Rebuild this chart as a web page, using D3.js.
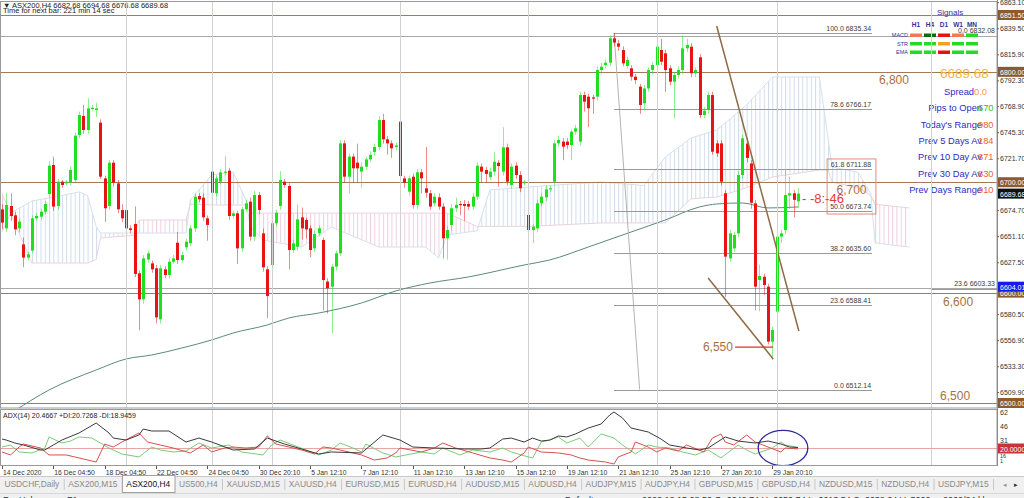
<!DOCTYPE html>
<html><head><meta charset="utf-8">
<script src="https://cdnjs.cloudflare.com/ajax/libs/d3/7.8.5/d3.min.js"></script>
<style>
html,body{margin:0;padding:0;background:#fff;overflow:hidden}
svg{display:block;font-family:"Liberation Sans",Arial,sans-serif}
</style></head><body>
<svg id="c" width="1024" height="498"></svg>
<script>
// ---------------- DATA ----------------
const headerText = "ASX200,H4  6682.68 6694.68 6676.68 6689.68";
const timerText = "Time for next bar: 221 min 14 sec";
const barOpen = [6675.4,6658.2,6678.5,6670,6658.2,6643.7,6631.7,6638,6667.3,6668.8,
6673.3,6689.3,6715.6,6678.5,6700.5,6699,6699.6,6702,6742.8,6760,
6747.3,6766.3,6765.4,6754,6703.5,6678.5,6717.7,6699,6674.8,6674.8,
6658.2,6662.2,6617.5,6593.9,6630,6626.5,6622,6575.8,6621.1,6616,
6628,6645.2,6629.5,6641,6644.7,6658.2,6687.5,6686,6667.3,6709.6,
6690,6700.5,6709,6710.5,6669.4,6671.8,6640.1,6675.5,6682.4,6650.7,
6688.4,6653.7,6621.1,6625,6662.8,6678.5,6700.5,6696.6,6638.6,6641.6,
6668.2,6665.8,6658.2,6640.1,6653.7,6647.7,6610,6605.4,6623.5,6635.6,
6735.2,6705,6723.2,6717.7,6709.6,6714.1,6720.7,6727.4,6732,6756.4,
6738.9,6735.2,6732,6754.9,6703.5,6691.5,6705,6679.4,6709,6694.5,
6690,6680.9,6686.3,6677.9,6649.2,6661.3,6676.4,6680.3,6680.3,6680.3,
6677.9,6686.9,6714.1,6711.1,6704.6,6709.6,6717.7,6709.6,6731.6,6697.5,
6715,6706.5,6699,6670.3,6656.7,6658.2,6680.9,6686.3,6693.6,6700.5,
6735.2,6736.8,6736.8,6733.7,6745.8,6736.8,6779,6777.5,6776.9,6777.5,
6801.7,6806.2,6808.3,6830.4,6825.8,6819.8,6805.3,6803.2,6795.6,6786.6,
6771.5,6785,6801.7,6806.2,6819.8,6816.8,6803.2,6791.1,6797.2,6801.7,
6821.3,6822.8,6798.7,6813.2,6760.9,6765.4,6779,6735.2,6735.2,6690,
6631.1,6640.1,6653.7,6706.5,6735,6717,6680.9,6611.4,6614.4,6605.4,
6555.6,6582.7,6650.7,6656.7,6688,6690,6682.68];
const barHigh = [6680,6690,6690,6673,6667,6650,6637,6670,6672,6676,
6683,6719,6723,6703,6702,6702,6714,6745,6764,6770,
6776,6770,6772,6757,6706,6720,6720,6702,6680,6678,
6661,6678,6620,6634,6638,6629,6625,6625,6624,6631,
6634,6655,6637,6649,6661,6690,6690,6690,6670,6719,
6706,6712,6724,6713,6674,6674,6678,6684,6686,6692,
6691,6658,6624,6666,6675,6710,6703,6699,6648,6680,
6677,6668,6661,6656,6661,6650,6613,6626,6638,6738,
6738,6726,6726,6735,6718,6723,6728,6735,6760,6762,
6742,6738,6736,6758,6706,6706,6708,6712,6712,6732,
6693,6690,6690,6681,6660,6680,6686,6683,6684,6683,
6690,6718,6717,6714,6713,6727,6720,6750,6735,6717,
6718,6710,6702,6674,6662,6684,6690,6697,6697,6738,
6742,6740,6740,6748,6752,6782,6782,6780,6779,6805,
6808,6811,6833,6835.34,6829,6823,6814,6806,6798,6789,
6788,6804,6809,6832,6830,6820,6806,6800,6805,6833,
6830,6826,6804,6816,6768,6782,6782,6738,6738,6693,
6657,6655,6710,6743,6740,6720,6684,6625,6617,6608,
6569,6654,6657,6711,6705,6693,6694.68];
const barLow = [6658,6655,6665,6652,6655,6623,6629,6636,6665,6666,
6671,6686,6674,6675,6695,6697,6697,6699,6740,6744,
6744,6765,6759,6703,6664,6675,6696,6672,6664,6655,
6654,6614,6566,6590,6627,6618,6572,6572,6613,6613,
6626,6626,6627,6638,6642,6655,6682,6665,6647,6688,
6687,6698,6706,6666,6667,6626,6637,6673,6647,6647,
6671,6619,6577,6621,6660,6675,6695,6621,6636,6638,
6648,6649,6632,6637,6651,6584,6581,6563,6620,6633,
6700,6690,6700,6700,6695,6711,6718,6724,6729,6735,
6725,6722,6729,6702,6695,6688,6676,6676,6690,6686,
6675,6678,6675,6631,6630,6656,6673,6670,6665,6675,
6675,6684,6700,6700,6702,6706,6696,6706,6697,6694,
6703,6691,6697,6645,6645,6655,6678,6683,6691,6697,
6732,6720,6730,6720,6743,6733,6764,6750,6762,6774,
6798,6803,6805,6823,6819,6805,6803,6792,6789,6762,
6765,6782,6798,6803,6806,6782,6788,6758,6794,6798,
6818,6795,6795,6758,6758,6762,6725,6723,6697,6596,
6628,6637,6650,6703,6718,6676,6584,6583,6598,6553,
6539,6512.14,6645,6653,6676,6668,6676.68];
const barClose = [6663.4,6679.4,6669.4,6657.3,6664.3,6631.7,6634.7,6667.3,6669.4,6673.3,
6680.3,6715,6677.9,6700.5,6697.5,6700.5,6711.1,6742.2,6760.9,6747.3,
6766.9,6767.5,6766.9,6705,6676.4,6717.7,6699.6,6675.5,6667.3,6658.2,
6656.7,6616.9,6593.9,6631,6635.6,6621.1,6577.6,6622,6616,6628,
6631,6629.5,6634,6646.2,6658.2,6686.9,6684.5,6668.2,6661.3,6690.5,
6703.5,6709,6709.6,6669.4,6671.8,6640.1,6675.5,6680.9,6650.7,6688.4,
6674.8,6622.9,6596.9,6662.8,6672.4,6702,6697.5,6638.6,6644.6,6666.4,
6658.2,6657.3,6638.6,6653.1,6658.2,6611.4,6603.9,6623.5,6635.6,6735.2,
6705,6723.2,6712.6,6712.6,6714.1,6720.7,6724.7,6732,6756.4,6738.9,
6735.2,6730.7,6733.4,6705.6,6699.6,6703.5,6679.4,6709,6703.5,6690.5,
6677.9,6686.9,6677.9,6649.2,6656.7,6676.4,6679.4,6679.4,6678.5,6677.9,
6686.9,6715,6709.6,6707.5,6709.6,6718.6,6714.7,6731.6,6700.5,6714.1,
6706.5,6694.5,6700.5,6656.7,6659.7,6680.9,6686.9,6693.6,6694.5,6735.2,
6738.3,6732.2,6733.7,6745.8,6748.8,6779,6773,6767,6775.7,6801.7,
6804.7,6808.3,6830.4,6826.5,6822.8,6807.7,6810.8,6795.6,6792.6,6770,
6785,6801.7,6806.2,6822.8,6809.2,6801.7,6791.1,6797.2,6801.7,6821.3,
6824.3,6798.7,6801.7,6760.9,6764.8,6779,6727.7,6726.2,6700.5,6632.6,
6653.7,6652.2,6706.5,6739.8,6722,6681.4,6605.4,6615,6606.9,6555.6,
6566.1,6650.7,6653.7,6688.4,6690,6684,6689.68];

// moving average readings [bar, price]
const maPoints = [[3,6493],[11,6511.8],[22,6529.9],[29,6539.9],[35,6543.5],[42,6549.8],[49,6557.1],[54,6563.4],[62,6570.7],[67,6577],[74,6581.5],[84,6590.6],[92,6601.5],[100,6608.7],[109,6614.2],[122,6625],[128,6629.6],[137,6641.3],[147,6654.9],[155,6665.8],[163,6677.6],[167,6680.3],[173,6681.2],[179,6676.7],[186,6677.6]];

// Ichimoku cloud readings
const cloudBars = [0,2,7,14,18,20,22,23,31,32,43,44,49,54,57,58,61,70,77,88,99,102,104,111,114,123,140,150,155,161,167,174,180,191,193,194,200,203,204,212];
const spanA = [6655,6672,6683,6688,6691.2,6688,6660,6654,6654,6654,6654,6683.9,6706.6,6709.3,6683.9,6660,6647.7,6641.3,6659.4,6641.3,6641.3,6631.4,6652.2,6656,6693,6695.7,6700.2,6697,6722.9,6740,6747.3,6770,6795.3,6795.3,6740,6713.8,6709,6690,6645,6641.3];
const spanB = [6690,6672,6626.8,6626.8,6626.8,6626.8,6630,6649.5,6652,6665.8,6665.8,6680,6679.4,6679.4,6679.4,6672,6672,6672,6672,6672,6672,6672,6672,6660,6660,6660,6663.1,6663.1,6663.1,6685,6686.6,6695,6704.7,6711.1,6711,6700,6695,6688,6680,6676.7];

// Fibonacci retracement
const fibLevels = ["100.0","78.6","61.8","50.0","38.2","23.6","0.0"];
const fibPrices = [6835.34,6766.17,6711.88,6673.74,6635.60,6588.41,6512.14];

// horizontal levels
const brownLevels = [6851.50,6800.00,6700.00,6600.00,6500.00];
const grayLevels = [6832.08,6604.01];
const levelTexts = ["6,800","6,700","6,600","6,500","6,550"];
const currentPrice = 6689.68;
const bluePrice = 6604.01;
const priceTicks = [6863.10,6839.50,6815.90,6792.30,6768.90,6745.30,6721.70,6674.70,6651.10,6627.50,6580.50,6556.90,6533.30,6509.90];

// ADX(14)
const adxLine = [[0,29.9],[1,28.8],[3,25.5],[5,23.3],[9,17.8],[10,17.8],[14,28.8],[18,36.6],[22,47.6],[25,36.6],[26,31.0],[29,28.8],[32,34.4],[33,41.0],[35,38.8],[39,38.8],[43,26.6],[46,31.0],[49,26.6],[54,17.8],[59,18.9],[62,31.0],[66,24.4],[74,13.4],[77,15.6],[84,14.5],[89,34.4],[93,28.8],[96,21.1],[101,20],[108,18.9],[112,18.9],[114,20],[117,29.9],[119,31.0],[122,26.6],[124,31.0],[126,27.7],[128,28.8],[130,33.3],[132,32.2],[134,35.5],[137,42.1],[140,46.5],[142,56.5],[143,59.8],[145,53.1],[147,42.1],[151,37.7],[154,29.9],[156,23.3],[160,20],[163,17.8],[165,20],[169,32.2],[172,27.7],[176,25.5],[179,27.7],[182,24.4],[184,21.1],[186,20.4667]];
const plusDI = [[0,21.1],[2,23.3],[4,15.6],[7,14.5],[10,20],[11,32.2],[14,25.5],[16,27.7],[18,32.2],[21,31.0],[25,20],[28,13.4],[32,10.1],[35,21.1],[37,17.8],[40,15.6],[43,16.7],[46,25.5],[49,20],[53,23.3],[56,15.6],[61,12.3],[63,23.3],[65,28.8],[68,23.3],[74,12.3],[77,17.8],[79,25.5],[82,20],[84,15.6],[85,24.4],[89,14.5],[92,10.1],[98,15.6],[101,13.4],[103,20],[107,12.3],[110,17.8],[114,15.6],[117,20],[119,15.6],[123,10.1],[124,9.0],[126,26.6],[128,28.8],[130,32.2],[132,25.5],[135,31.0],[137,21.1],[140,35.5],[143,31.0],[145,23.3],[148,13.4],[151,23.3],[153,21.1],[156,20],[159,15.6],[162,12.3],[165,17.8],[168,9.0],[172,23.3],[174,17.8],[176,13.4],[180,20],[182,26.6],[183,23.3],[186,20.7268]];
const minusDI = [[0,15.6],[2,12.3],[4,21.1],[5,24.4],[9,20],[11,12.3],[15,12.3],[18,9.0],[22,4.5],[24,24.4],[26,21.1],[28,26.6],[32,36.6],[34,26.6],[37,23.3],[40,20],[44,14.5],[47,23.3],[49,15.6],[52,20],[54,21.1],[57,20],[60,21.1],[62,33.3],[64,24.4],[67,21.1],[70,17.8],[73,13.4],[75,21.1],[77,20],[81,15.6],[84,12.3],[87,6.7],[90,9.0],[92,14.5],[93,20],[98,15.6],[101,20],[103,25.5],[106,20],[110,14.5],[114,9.0],[117,6.7],[119,4.5],[122,14.5],[123,21.1],[126,15.6],[130,14.5],[133,12.3],[135,9.0],[137,6.7],[141,4.5],[143,2.3],[144,10.1],[147,15.6],[148,26.6],[151,21.1],[153,15.6],[155,20],[158,16.7],[160,23.3],[164,15.6],[166,31.0],[168,35.5],[169,26.6],[171,23.3],[174,34.4],[176,26.6],[179,21.1],[182,15.6],[183,20],[186,18.9459]];
const adxTicks = [62,46,31,16,1];
const adxLevel = 20;
const adxHeader = "ADX(14) 20.4667 +DI:20.7268 -DI:18.9459";

// time axis
const timeLabels = ["14 Dec 2020","16 Dec 04:50","18 Dec 04:50","22 Dec 04:50","24 Dec 04:50","30 Dec 20:10","5 Jan 12:10","7 Jan 12:10","11 Jan 12:10","13 Jan 12:10","15 Jan 12:10","19 Jan 12:10","21 Jan 12:10","25 Jan 12:10","27 Jan 20:10","29 Jan 20:10"];
const timeLabelBars = [0,12,24,36,48,60,72,84,96,108,120,132,144,156,168,180];
const gridBars = [29,49,63,93,123,153,181,217];

// signals panel
const signalTimeframes = ["H1","H4","D1","W1","MN"];
const signalRows = ["MACD","STR","EMA"];
const signalStates = [["weakSell","buy2","sell","weakSell","buy"],["buy","buy","neutral","buy","buy"],["buy","buy","sell","buy","buy"]];
const infoLabels = ["Spread","Pips to Open","Today's Range","Prev 5 Days Av","Prev 10 Day Av","Prev 30 Day Av","Prev Days Range"];
const infoValues = ["0.0","670","980","184","871","830","910"];
const countdownText = "- -8:-46";

// tabs / status
const tabs = ["USDCHF,Daily","ASX200,M15","ASX200,H4","US500,H4","XAUUSD,M15","XAUUSD,H4","EURUSD,M15","EURUSD,H4","AUDUSD,M15","AUDUSD,H4","AUDJPY,M15","AUDJPY,H4","GBPUSD,M15","GBPUSD,H4","NZDUSD,M15","NZDUSD,H4","USDJPY,M15"];
const activeTab = "ASX200,H4";

// ---------------- DRAW ----------------
const svg = d3.select('#c');
const mainTop = 2, mainBot = 408, adxTop = 410, adxBot = 466, axisX = 997;
const x = d3.scaleLinear().domain([0, 186]).range([2, 798]);
const y = d3.scaleLinear().domain([6500, 6851.5]).range([403, 15]);
const ya = d3.scaleLinear().domain([20, 62]).range([448, 410]);
const step = x(1) - x(0);

const UP = '#1ee01e', DN = '#e81414', BROWN = '#a27a5a', LBROWN = '#a8703f';

svg.append('rect').attr('width', 1024).attr('height', 498).attr('fill', '#fff');
const defs = svg.append('defs');
defs.append('clipPath').attr('id', 'mainClip').append('rect')
  .attr('x', 0).attr('y', mainTop).attr('width', axisX).attr('height', mainBot - mainTop);
defs.append('clipPath').attr('id', 'adxClip').append('rect')
  .attr('x', 0).attr('y', adxTop).attr('width', axisX).attr('height', adxBot - adxTop);

const main = svg.append('g').attr('clip-path', 'url(#mainClip)');

// vertical grid
[[mainTop, mainBot], [adxTop, adxBot]].forEach(([a, b]) => {
  svg.append('g').selectAll('line').data(gridBars).join('line')
    .attr('x1', d => Math.round(x(d)) + 0.5).attr('x2', d => Math.round(x(d)) + 0.5)
    .attr('y1', a).attr('y2', b).attr('stroke', '#d2d2d2').attr('stroke-width', 1);
});

// Ichimoku cloud (difference technique)
const cloud = cloudBars.map((b, i) => ({ b, a: spanA[i], s: spanB[i] }));
function hatch(id, color) {
  const p = defs.append('pattern').attr('id', id).attr('patternUnits', 'userSpaceOnUse')
    .attr('width', step).attr('height', 8).attr('x', x(0));
  p.append('rect').attr('width', step).attr('height', 8).attr('fill', 'none');
  p.append('line').attr('x1', 0.5).attr('x2', 0.5).attr('y1', 0).attr('y2', 8)
    .attr('stroke', color).attr('stroke-width', 1);
}
hatch('hBlue', '#d0dcec');
hatch('hPink', '#ecd0de');
defs.append('clipPath').attr('id', 'belowA').append('path')
  .attr('d', d3.area().x(d => x(d.b)).y0(mainBot + 20).y1(d => y(d.a))(cloud));
defs.append('clipPath').attr('id', 'aboveA').append('path')
  .attr('d', d3.area().x(d => x(d.b)).y0(mainTop - 20).y1(d => y(d.a))(cloud));
const cg = main.append('g');
cg.append('path').attr('clip-path', 'url(#belowA)')
  .attr('d', d3.area().x(d => x(d.b)).y0(mainTop - 20).y1(d => y(d.s))(cloud))
  .attr('fill', 'url(#hBlue)');
cg.append('path').attr('clip-path', 'url(#aboveA)')
  .attr('d', d3.area().x(d => x(d.b)).y0(mainBot + 20).y1(d => y(d.s))(cloud))
  .attr('fill', 'url(#hPink)');
cg.append('path').attr('d', d3.line().x(d => x(d.b)).y(d => y(d.a))(cloud))
  .attr('fill', 'none').attr('stroke', '#d6e0ec').attr('stroke-width', 1);
cg.append('path').attr('d', d3.line().x(d => x(d.b)).y(d => y(d.s))(cloud))
  .attr('fill', 'none').attr('stroke', '#e8d4de').attr('stroke-width', 1);

// horizontal levels
main.append('g').selectAll('line').data(grayLevels).join('line')
  .attr('x1', 0).attr('x2', axisX)
  .attr('y1', d => Math.round(y(d)) + 0.5).attr('y2', d => Math.round(y(d)) + 0.5)
  .attr('stroke', '#a8a8a8').attr('stroke-width', 1);
main.append('g').selectAll('line').data(brownLevels).join('line')
  .attr('x1', 0).attr('x2', axisX)
  .attr('y1', d => Math.round(y(d)) + 0.5).attr('y2', d => Math.round(y(d)) + 0.5)
  .attr('stroke', BROWN).attr('stroke-width', 1);

// moving average
main.append('path').attr('d', d3.line().x(d => x(d[0])).y(d => y(d[1])).curve(d3.curveMonotoneX)(maPoints))
  .attr('fill', 'none').attr('stroke', '#5b8a7c').attr('stroke-width', 1);

// fibonacci
const fibStart = 143, fibEnd = 203.3;
main.append('line').attr('x1', x(fibStart)).attr('y1', y(fibPrices[0]))
  .attr('x2', x(149)).attr('y2', y(fibPrices[fibPrices.length - 1]))
  .attr('stroke', '#b4b4b4').attr('stroke-width', 1);
const fg = main.append('g');
fg.selectAll('line').data(fibPrices).join('line')
  .attr('x1', x(fibStart)).attr('x2', x(fibEnd))
  .attr('y1', d => Math.round(y(d)) + 0.5).attr('y2', d => Math.round(y(d)) + 0.5)
  .attr('stroke', '#9a9a9a').attr('stroke-width', 1);
fg.selectAll('text').data(fibPrices).join('text')
  .attr('x', x(fibEnd) - 1).attr('y', d => y(d) - 2)
  .attr('text-anchor', 'end').attr('font-size', 7).attr('fill', '#404040')
  .text((d, i) => fibLevels[i] + '  ' + d.toFixed(2));
// other fib fragments near axis
main.append('line').attr('x1', x(217)).attr('x2', axisX)
  .attr('y1', Math.round(y(6603.33)) + 0.5).attr('y2', Math.round(y(6603.33)) + 0.5)
  .attr('stroke', '#9a9a9a');
main.append('text').attr('x', 995).attr('y', y(6603.33) - 3).attr('text-anchor', 'end')
  .attr('font-size', 7).attr('fill', '#404040').text('23.6  6603.33');
main.append('text').attr('x', 995).attr('y', y(6832.08) - 3).attr('text-anchor', 'end')
  .attr('font-size', 7).attr('fill', '#404040').text('0.0  6832.08');

// candles
const candles = barOpen.map((o, i) => ({ i, o, h: Math.max(barHigh[i], o, barClose[i]), l: Math.min(barLow[i], o, barClose[i]), c: barClose[i] }));
const cgp = main.append('g');
cgp.selectAll('line').data(candles).join('line')
  .attr('x1', d => Math.round(x(d.i)) + 0.5).attr('x2', d => Math.round(x(d.i)) + 0.5)
  .attr('y1', d => y(d.h)).attr('y2', d => y(d.l))
  .attr('stroke', d => d.c >= d.o ? UP : DN).attr('stroke-width', 1).attr('opacity', 0.5);
cgp.selectAll('rect').data(candles).join('rect')
  .attr('x', d => Math.round(x(d.i)) - 1).attr('width', 3)
  .attr('y', d => y(Math.max(d.o, d.c)))
  .attr('height', d => Math.max(1.2, y(Math.min(d.o, d.c)) - y(Math.max(d.o, d.c))))
  .attr('fill', d => d.c >= d.o ? UP : DN);

// trend lines
const trendLines = [[[167, 6841.5], [186.2, 6565.2]], [[165, 6613.2], [180.2, 6539.9]]];
main.append('g').selectAll('line').data(trendLines).join('line')
  .attr('x1', d => x(d[0][0])).attr('y1', d => y(d[0][1]))
  .attr('x2', d => x(d[1][0])).attr('y2', d => y(d[1][1]))
  .attr('stroke', '#8f6a45').attr('stroke-width', 1.5);

// 6,550 marker
main.append('line').attr('x1', x(171.3)).attr('x2', x(180.2))
  .attr('y1', y(6550.7)).attr('y2', y(6550.7)).attr('stroke', '#e03030').attr('stroke-width', 1.3);

// rectangle
main.append('rect').attr('x', x(192.8)).attr('y', y(6721.1))
  .attr('width', x(204.2) - x(192.8)).attr('height', y(6671.2) - y(6721.1))
  .attr('fill', 'none').attr('stroke', '#e28a78').attr('stroke-width', 1);

// level texts
const lt = main.append('g').attr('font-size', 12).attr('fill', LBROWN);
lt.append('text').attr('x', x(204.9)).attr('y', y(6800) + 3).attr('dominant-baseline', 'hanging').text(levelTexts[0]);
lt.append('text').attr('x', x(195)).attr('y', y(6700) + 3).attr('dominant-baseline', 'hanging').text(levelTexts[1]);
lt.append('text').attr('x', x(219.9)).attr('y', y(6600) + 5).attr('dominant-baseline', 'hanging').text(levelTexts[2]);
lt.append('text').attr('x', x(219.2)).attr('y', y(6500) - 3).text(levelTexts[3]);
lt.append('text').attr('x', x(170.8)).attr('y', y(6550.7) + 4).attr('text-anchor', 'end').text(levelTexts[4]);

// countdown
main.append('text').attr('x', x(186) + 4).attr('y', y(currentPrice) + 9)
  .attr('font-size', 13).attr('fill', '#e03a3a').text(countdownText);

// header
main.append('text').attr('x', 3).attr('y', 8).attr('font-size', 7.5).attr('fill', '#222')
  .text('\u25BC ' + headerText);
main.append('text').attr('x', 3).attr('y', 13).attr('font-size', 7.5).attr('fill', '#222')
  .text(timerText);

// signals panel
const sp = main.append('g');
sp.append('text').attr('x', 937).attr('y', 15).attr('font-size', 8).attr('fill', '#333399').text('Signals');
const colX = [910, 924, 938, 952, 966];
sp.selectAll('.tf').data(signalTimeframes).join('text')
  .attr('x', (d, i) => colX[i] + 6).attr('y', 27).attr('text-anchor', 'middle')
  .attr('font-size', 6.5).attr('font-weight', 'bold').attr('fill', '#333399').text(d => d);
const stateColor = { weakSell: '#f2785a', buy2: '#0b6b12', sell: '#e01414', buy: '#24dc24', neutral: '#f0a31c' };
signalRows.forEach((r, ri) => {
  const yy = 35 + ri * 8.5;
  sp.append('text').attr('x', 908).attr('y', yy + 2).attr('text-anchor', 'end')
    .attr('font-size', 5.5).attr('fill', '#333399').text(r);
  sp.selectAll('.s' + ri).data(signalStates[ri]).join('rect')
    .attr('x', (d, i) => colX[i]).attr('y', yy - 1.5).attr('width', 12).attr('height', 3.5)
    .attr('fill', d => stateColor[d]);
});
sp.append('text').attr('x', 940).attr('y', y(6800) + 6).attr('font-size', 13.5).attr('fill', '#f3b33d')
  .text(currentPrice.toFixed(2));
const infoValueColor = ['#f0a040', '#2ec02e', '#f06030', '#f06030', '#f06030', '#f06030', '#f06030'];
infoLabels.forEach((l, i) => {
  const by = 95 + i * 16.3;
  sp.append('text').attr('x', i === 0 ? 974 : 982).attr('y', by).attr('text-anchor', 'end')
    .attr('font-size', 9.3).attr('fill', '#2b2bc0').text(l);
  sp.append('text').attr('x', i === 0 ? 974 : 978).attr('y', by)
    .attr('font-size', 9.3).attr('fill', infoValueColor[i]).text(infoValues[i]);
});

// ADX panel
const ag = svg.append('g').attr('clip-path', 'url(#adxClip)');
ag.append('line').attr('x1', 0).attr('x2', axisX).attr('y1', ya(adxLevel) + 0.5).attr('y2', ya(adxLevel) + 0.5)
  .attr('stroke', '#e6a6a6').attr('stroke-width', 1);
const al = d3.line().x(d => x(d[0])).y(d => ya(d[1]));
ag.append('path').attr('d', al(plusDI)).attr('fill', 'none').attr('stroke', '#7acb7a').attr('stroke-width', 1);
ag.append('path').attr('d', al(minusDI)).attr('fill', 'none').attr('stroke', '#d85050').attr('stroke-width', 1);
ag.append('path').attr('d', al(adxLine)).attr('fill', 'none').attr('stroke', '#3a3a3a').attr('stroke-width', 1);
ag.append('ellipse').attr('cx', x(182.5)).attr('cy', ya(adxLevel))
  .attr('rx', x(188.3) - x(182.5)).attr('ry', ya(0) - ya(20) - 0.5)
  .attr('fill', 'none').attr('stroke', '#2b2b9e').attr('stroke-width', 1.3);
ag.append('text').attr('x', 3).attr('y', adxTop + 8).attr('font-size', 7).attr('fill', '#222').text(adxHeader);

// panel frames
svg.append('rect').attr('x', 0.5).attr('y', mainTop - 0.5).attr('width', axisX - 0.5).attr('height', mainBot - mainTop + 0.5)
  .attr('fill', 'none').attr('stroke', '#9a9a9a');
svg.append('rect').attr('x', 0.5).attr('y', adxTop - 0.5).attr('width', axisX - 0.5).attr('height', adxBot - adxTop)
  .attr('fill', 'none').attr('stroke', '#9a9a9a');

// right price axis
const ax = svg.append('g').attr('transform', `translate(${axisX},0)`);
ax.append('rect').attr('x', 0.5).attr('y', 0).attr('width', 27).attr('height', adxBot).attr('fill', '#fff');
ax.append('line').attr('x1', 0.5).attr('x2', 0.5).attr('y1', 0).attr('y2', adxBot).attr('stroke', '#8a8a8a');
const yAxis = d3.axisRight(y).tickValues(priceTicks).tickFormat(d3.format('.2f')).tickSize(2).tickPadding(1);
ax.append('g').call(yAxis).call(g => {
  g.select('.domain').remove();
  g.selectAll('text').attr('font-size', 7).attr('fill', '#333').attr('font-family', '"Liberation Sans",Arial,sans-serif');
  g.selectAll('line').attr('stroke', '#666');
});
function priceBox(v, fill, txt, yy) {
  const cy = yy !== undefined ? yy : y(v);
  ax.append('rect').attr('x', 1).attr('y', cy - 5).attr('width', 27).attr('height', 10).attr('fill', fill);
  ax.append('text').attr('x', 3).attr('y', cy + 3).attr('font-size', 7).attr('fill', '#fff').text(txt);
}
brownLevels.forEach(v => priceBox(v, '#8c5a2e', v.toFixed(2)));
priceBox(bluePrice, '#1a1ae6', bluePrice.toFixed(2), y(bluePrice) - 1.5);
priceBox(currentPrice, '#111', currentPrice.toFixed(2));
// adx axis
const adxLabelY = d => d === 1 ? 459 : (d === 16 ? 453.5 : ya(d));
ax.selectAll('.at').data(adxTicks).join('text')
  .attr('x', 3).attr('y', adxLabelY).attr('dominant-baseline', 'hanging')
  .attr('font-size', d => d < 20 ? 5.5 : 7).attr('fill', '#333').text(d => d);
priceBox(adxLevel, '#c8333a', adxLevel.toFixed(4), ya(adxLevel) + 0.5);

// time axis
const tg = svg.append('g');
tg.selectAll('line').data(timeLabelBars).join('line')
  .attr('x1', d => Math.round(x(d)) + 0.5).attr('x2', d => Math.round(x(d)) + 0.5)
  .attr('y1', adxBot).attr('y2', adxBot + 3).attr('stroke', '#555');
tg.selectAll('text').data(timeLabelBars).join('text')
  .attr('x', d => x(d) + 1).attr('y', adxBot + 9).attr('font-size', 6.8).attr('fill', '#333')
  .text((d, i) => timeLabels[i]);

// tabs
const tb = svg.append('g');
tb.append('rect').attr('x', 0).attr('y', 476).attr('width', 1024).attr('height', 22).attr('fill', '#f0f0f0');
tb.append('line').attr('x1', 0).attr('x2', 1024).attr('y1', 476.5).attr('y2', 476.5).attr('stroke', '#c8c8c8');
const TABFONT = 8.4;
const tmp = tb.append('text').attr('font-size', TABFONT);
const widths = tabs.map(t => { tmp.text(t); return tmp.node().getComputedTextLength(); });
tmp.remove();
const pad = (993 - d3.sum(widths)) / tabs.length;
let cx = 0;
tabs.forEach((t, i) => {
  const w = widths[i] + pad;
  if (t === activeTab) {
    tb.append('rect').attr('x', cx + 0.5).attr('y', 475.5).attr('width', w).attr('height', 17)
      .attr('fill', '#fff').attr('stroke', '#a0a0a0');
  } else {
    tb.append('line').attr('x1', cx + w + 0.5).attr('x2', cx + w + 0.5).attr('y1', 479).attr('y2', 490).attr('stroke', '#c8c8c8');
  }
  tb.append('text').attr('x', cx + w / 2).attr('y', 487).attr('text-anchor', 'middle').attr('font-size', TABFONT)
    .attr('fill', t === activeTab ? '#111' : '#8a8a8a').text(t);
  cx += w;
});
tb.append('text').attr('x', 1003).attr('y', 487).attr('font-size', 7).attr('fill', '#999').text('\u25C2');
tb.append('text').attr('x', 1014).attr('y', 487).attr('font-size', 7).attr('fill', '#333').text('\u25B8');
// status bar (mostly cut off below the window, as in the original screenshot)
tb.append('line').attr('x1', 0).attr('x2', 1024).attr('y1', 493.5).attr('y2', 493.5).attr('stroke', '#d8d8d8');
const st = tb.append('g').attr('font-size', 9).attr('fill', '#333');
st.append('text').attr('x', 3).attr('y', 503).text('For Help, press F1');
st.append('text').attr('x', 565).attr('y', 503).text('Default');
st.append('text').attr('x', 642).attr('y', 503).text('2020.12.15 08:50   O: 6642.74   H: 6650.74   L: 6613.54   C: 6632.64   V: 5000');
st.append('text').attr('x', 943).attr('y', 503).text('2060/24 kb');
</script>
</body></html>
